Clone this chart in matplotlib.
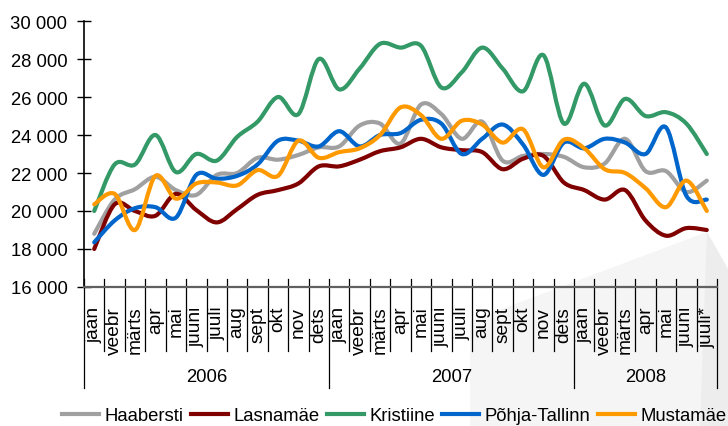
import matplotlib
matplotlib.use("Agg")
import matplotlib.pyplot as plt
from matplotlib.path import Path
from matplotlib.patches import PathPatch, Polygon
from matplotlib.lines import Line2D
from matplotlib.ticker import FuncFormatter
import numpy as np

plt.rcParams['font.family'] = ['Liberation Sans', 'DejaVu Sans']

months_2006 = ["jaan", "veebr", "märts", "apr", "mai", "juuni", "juuli", "aug", "sept", "okt", "nov", "dets"]
months_2007 = ["jaan", "veebr", "märts", "apr", "mai", "juuni", "juuli", "aug", "sept", "okt", "nov", "dets"]
months_2008 = ["jaan", "veebr", "märts", "apr", "mai", "juuni", "juuli*"]
years = ["2006", "2007", "2008"]
month_labels = months_2006 + months_2007 + months_2008

haabersti = [18800, 20600, 21150, 21800, 21100, 20850, 21900, 22000, 22800, 22700, 22950, 23350,
             23400, 24500, 24600, 23550, 25600, 25100, 23800, 24700, 22650, 22900, 23000, 22850,
             22300, 22500, 23800, 22100, 22100, 21000, 21600]
lasnamae = [18000, 20350, 20000, 19750, 20900, 20050, 19400, 20100, 20850, 21100, 21450, 22350,
            22350, 22700, 23150, 23350, 23800, 23350, 23200, 23100, 22200, 22750, 22900, 21500,
            21100, 20600, 21100, 19500, 18700, 19100, 19000]
kristiine = [20000, 22450, 22450, 24000, 22050, 23000, 22650, 23900, 24700, 26000, 25100, 28000,
             26400, 27500, 28800, 28600, 28700, 26500, 27300, 28600, 27500, 26300, 28200, 24600,
             26700, 24500, 25900, 25000, 25200, 24600, 23000]
pohja_tallinn = [18350, 19500, 20150, 20200, 19650, 21900, 21700, 21850, 22450, 23700, 23700, 23400,
                 24200, 23400, 24000, 24100, 24800, 24600, 23000, 23800, 24550, 23500, 21900, 23600,
                 23300, 23800, 23600, 23000, 24400, 20800, 20600]
mustamae = [20350, 20900, 19000, 21850, 20650, 21450, 21500, 21350, 22150, 21850, 23700, 22800,
            23100, 23300, 24000, 25450, 25050, 23800, 24750, 24550, 23600, 24300, 22300, 23750,
            23300, 22200, 22000, 21200, 20200, 21600, 20000]

series_names = ["Haabersti", "Lasnamäe", "Kristiine", "Põhja-Tallinn", "Mustamäe"]
series_values = [haabersti, lasnamae, kristiine, pohja_tallinn, mustamae]
series_colors = ["#a0a0a0", "#800000", "#339966", "#0066cc", "#ff9900"]

W, H = 728, 427
fig = plt.figure(figsize=(W / 100, H / 100), dpi=100)


def fpx(pts):
    return [(x / W, 1 - y / H) for x, y in pts]


# faint background watermark (drawn beneath everything)
fig.patches.append(Polygon(fpx([(470, 427), (470, 322), (707, 233), (728, 270), (728, 427)]),
                           closed=True, transform=fig.transFigure, facecolor="#f5f5f5",
                           edgecolor="none", zorder=-10))
fig.patches.append(Polygon(fpx([(700, 427), (707, 233), (728, 270), (728, 427)]),
                           closed=True, transform=fig.transFigure, facecolor="#ededed",
                           edgecolor="none", zorder=-9))

left, right, top, bottom = 84, 717, 22, 288
ax = fig.add_axes([left / W, 1 - bottom / H, (right - left) / W, (bottom - top) / H])
ax.set_facecolor("none")
ax.set_zorder(1)

n = len(month_labels)
xs = np.arange(n)


def smooth_path(x, y):
    pts = np.column_stack([x, y]).astype(float)
    verts = [pts[0]]
    codes = [Path.MOVETO]
    m = len(pts)
    for k in range(m - 1):
        p_prev = pts[k - 1] if k > 0 else pts[k]
        p0 = pts[k]
        p1 = pts[k + 1]
        p_next = pts[k + 2] if k + 2 < m else pts[k + 1]
        c1 = p0 + (p1 - p_prev) / 6.0
        c2 = p1 - (p_next - p0) / 6.0
        verts += [c1, c2, p1]
        codes += [Path.CURVE4] * 3
    return Path(verts, codes)


handles = []
for name, vals, col in zip(series_names, series_values, series_colors):
    patch = PathPatch(smooth_path(xs, vals), facecolor="none", edgecolor=col, lw=3.0,
                      capstyle="round", joinstyle="round", zorder=3)
    ax.add_patch(patch)
    handles.append(Line2D([], [], color=col, lw=3.0, label=name))

ax.set_xlim(-0.5, n - 0.5)
ax.set_ylim(16000, 30000)
ax.set_yticks(np.arange(16000, 30001, 2000))
ax.yaxis.set_major_formatter(FuncFormatter(lambda v, p: f"{int(v):,}".replace(",", " ")))

for s in ["top", "right"]:
    ax.spines[s].set_visible(False)
ax.spines["left"].set_color("black")
ax.spines["left"].set_linewidth(1.2)
ax.spines["bottom"].set_color("#606060")
ax.spines["bottom"].set_linewidth(1.6)

FS = 13.3
ax.tick_params(axis="y", direction="inout", length=9.5, width=1.0, pad=7.2, labelsize=FS,
               colors="black")
ax.set_xticks(xs)
ax.set_xticklabels(month_labels, rotation=90, fontsize=13.8, va="top", ha="center")
ax.tick_params(axis="x", length=0, pad=13.5)

trans = ax.get_xaxis_transform()
year_bounds = [0, 12, 24, n]
ah = bottom - top
for b in range(n + 1):
    y0 = 8 / ah
    y1 = -101 / ah if b in year_bounds else -64 / ah
    ax.plot([b - 0.5, b - 0.5], [y0, y1], transform=trans, color="black", lw=0.9,
            clip_on=False, zorder=2)

for yr, a, b in zip(years, year_bounds[:-1], year_bounds[1:]):
    ax.text((a + b - 1) / 2, -(378 - bottom) / ah, yr, transform=trans, ha="center",
            va="center", fontsize=FS)

fig.legend(handles=handles, loc="center", bbox_to_anchor=(394 / W, 1 - 417 / H), ncol=5,
           frameon=False, fontsize=FS, handlelength=2.0, handletextpad=0.3,
           columnspacing=0.4, borderpad=0, borderaxespad=0)

fig.savefig("out.png", dpi=100)
